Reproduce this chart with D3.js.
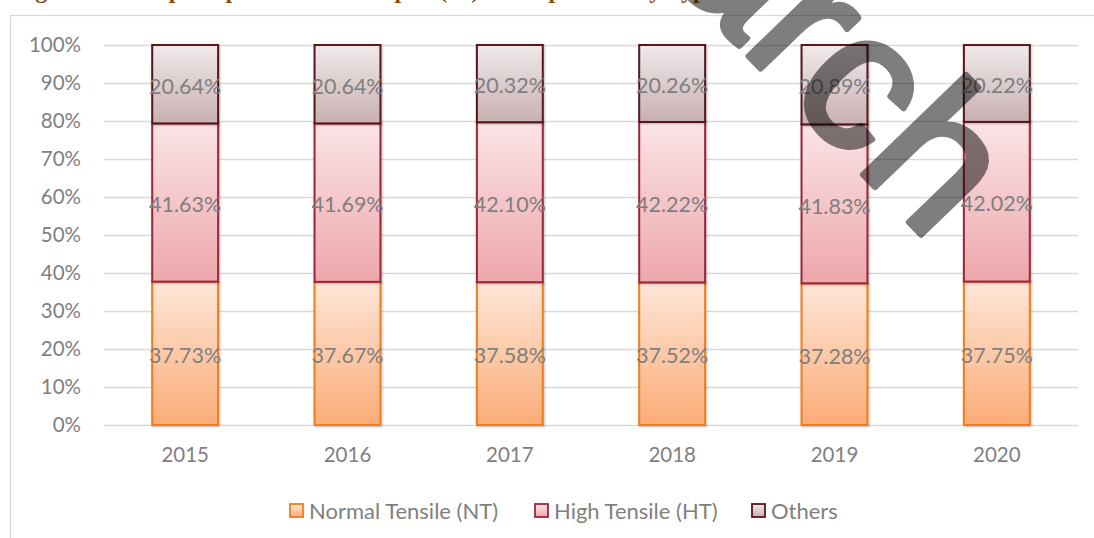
<!DOCTYPE html>
<html>
<head>
<meta charset="utf-8">
<script src="https://cdn.jsdelivr.net/npm/d3@7"></script>
<style>
  body { margin: 0; background: #fff; }
  svg { display: block; }
</style>
</head>
<body>
<svg id="chart"></svg>
<script>
// chart data
const years = ["2015", "2016", "2017", "2018", "2019", "2020"];
const normalTensile = [37.73, 37.67, 37.58, 37.52, 37.28, 37.75];
const highTensile = [41.63, 41.69, 42.10, 42.22, 41.83, 42.02];
const others = [20.64, 20.64, 20.32, 20.26, 20.89, 20.22];
const seriesNames = ["Normal Tensile (NT)", "High Tensile (HT)", "Others"];
const yTicks = [0, 10, 20, 30, 40, 50, 60, 70, 80, 90, 100];

const W = 1094, H = 538;
const FONT = "Lato, 'Open Sans', sans-serif";

// colours per series: gradient top, gradient bottom, outline
const STYLE = [
    {top: "#fee6d8", bottom: "#fbac77", stroke: "#ef7d1c"},
    {top: "#fbe4e7", bottom: "#eda7ab", stroke: "#9b2738"},
    {top: "#f0e9ea", bottom: "#c8b0b2", stroke: "#55161d"}
];

const svg = d3.select("#chart").attr("width", W).attr("height", H);
const defs = svg.append("defs");

STYLE.forEach(function(s, i) {
    const g = defs.append("linearGradient")
        .attr("id", "grad" + i)
        .attr("x1", 0).attr("y1", 0).attr("x2", 0).attr("y2", 1);
    g.append("stop").attr("offset", "0%").attr("stop-color", s.top);
    g.append("stop").attr("offset", "100%").attr("stop-color", s.bottom);
});

const shadow = defs.append("filter").attr("id", "shadow")
    .attr("x", "-10%").attr("y", "-10%").attr("width", "130%").attr("height", "130%");
shadow.append("feDropShadow")
    .attr("dx", 1).attr("dy", 1).attr("stdDeviation", 1.2)
    .attr("flood-color", "#000").attr("flood-opacity", 0.25);

// title, cut off at the top edge (only the descenders show)
svg.append("text")
    .attr("x", 14).attr("y", -2)
    .attr("font-family", "'Liberation Serif', serif")
    .attr("font-weight", "bold")
    .attr("font-size", 24)
    .attr("fill", "#8c4a08")
    .text("Figure 3: Steel plate production in Japan (%) - Composition by Type");

// outer chart frame
svg.append("rect")
    .attr("x", 10.5).attr("y", 15.5)
    .attr("width", W + 20).attr("height", H)
    .attr("fill", "none")
    .attr("stroke", "#d9d9d9")
    .attr("stroke-width", 1.3);

const plot = {left: 104, right: 1078, top: 45, bottom: 425};

const x = d3.scaleBand()
    .domain(years)
    .range([plot.left, plot.right])
    .paddingInner(0.594)
    .paddingOuter(0.297);

const y = d3.scaleLinear()
    .domain([0, 100])
    .range([plot.bottom, plot.top]);

// gridlines
svg.append("g")
    .selectAll("line")
    .data(yTicks)
    .enter()
    .append("line")
    .attr("x1", plot.left).attr("x2", plot.right)
    .attr("y1", d => Math.round(y(d)) + 0.5)
    .attr("y2", d => Math.round(y(d)) + 0.5)
    .attr("stroke", "#d9d9d9")
    .attr("stroke-width", 1.3);

// y axis labels
const yAxis = d3.axisLeft(y)
    .tickValues(yTicks)
    .tickFormat(d => d + "%")
    .tickSize(0)
    .tickPadding(23);

const yg = svg.append("g")
    .attr("transform", `translate(${plot.left},0)`)
    .call(yAxis);
yg.select(".domain").remove();
yg.selectAll("text")
    .attr("font-family", FONT)
    .attr("font-size", 20.5)
    .attr("fill", "#7f7f7f");

// x axis labels
const xAxis = d3.axisBottom(x).tickSize(0).tickPadding(22);
const xg = svg.append("g")
    .attr("transform", `translate(0,${plot.bottom})`)
    .call(xAxis);
xg.select(".domain").remove();
xg.selectAll("text")
    .attr("font-family", FONT)
    .attr("font-size", 20.5)
    .attr("fill", "#7f7f7f");

// stacked bars
const rows = years.map((yr, i) => ({
    year: yr,
    nt: normalTensile[i],
    ht: highTensile[i],
    ot: others[i]
}));
const stack = d3.stack().keys(["nt", "ht", "ot"]);
const layers = stack(rows);

layers.forEach(function(layer, li) {
    const g = svg.append("g");
    g.selectAll("rect")
        .data(layer)
        .enter()
        .append("rect")
        .attr("x", d => x(d.data.year))
        .attr("y", d => y(d[1]))
        .attr("width", x.bandwidth())
        .attr("height", d => y(d[0]) - y(d[1]))
        .attr("fill", `url(#grad${li})`)
        .attr("stroke", STYLE[li].stroke)
        .attr("stroke-width", 2)
        .attr("filter", "url(#shadow)");
});

// data labels
layers.forEach(function(layer, li) {
    svg.append("g")
        .selectAll("text")
        .data(layer)
        .enter()
        .append("text")
        .attr("x", d => x(d.data.year) + x.bandwidth() / 2)
        .attr("y", d => y((d[0] + d[1]) / 2))
        .attr("dy", "0.45em")
        .attr("text-anchor", "middle")
        .attr("font-family", FONT)
        .attr("font-size", 21.5)
        .attr("fill", "#7f7f7f")
        .text(d => (d[1] - d[0]).toFixed(2) + "%");
});

// legend
const legendX = [290, 535, 752];
const legend = svg.append("g");
seriesNames.forEach(function(name, i) {
    legend.append("rect")
        .attr("x", legendX[i]).attr("y", 504)
        .attr("width", 13).attr("height", 13)
        .attr("fill", `url(#grad${i})`)
        .attr("stroke", STYLE[i].stroke)
        .attr("stroke-width", 1.8);
    legend.append("text")
        .attr("x", legendX[i] + 19).attr("y", 511)
        .attr("dy", "0.35em")
        .attr("font-family", FONT)
        .attr("font-size", 22)
        .attr("fill", "#7f7f7f")
        .text(name);
});

// watermark
svg.append("text")
    .attr("transform", "translate(930,244) rotate(46)")
    .attr("text-anchor", "end")
    .attr("font-family", "'Liberation Sans', sans-serif")
    .attr("font-size", 198)
    .attr("fill", "#000")
    .attr("stroke", "#000")
    .attr("stroke-width", 6)
    .attr("stroke-linejoin", "round")
    .attr("opacity", 0.5)
    .text("arch");
</script>
</body>
</html>
